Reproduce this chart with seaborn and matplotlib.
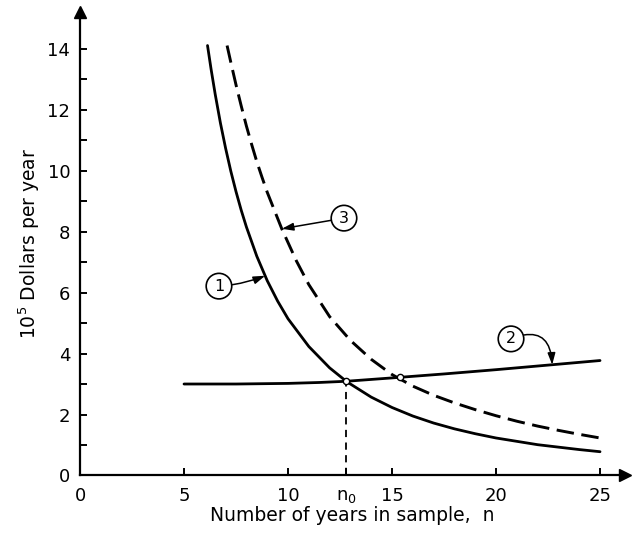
import numpy as np
import pandas as pd
import matplotlib
matplotlib.use("Agg")
import matplotlib.pyplot as plt
import seaborn as sns

# ---- data ----
curve1_n = [6.13, 6.3, 6.5, 6.75, 7.0, 7.25, 7.5, 7.75, 8.0, 8.5, 9.0, 9.5, 10.0, 11.0, 12.0,
            12.8, 13.0, 14.0, 15.0, 16.0, 17.0, 18.0, 19.0, 20.0, 21.0, 22.0, 23.0, 24.0, 25.0]
curve1_y = [14.1, 13.33, 12.50, 11.56, 10.73, 9.98, 9.31, 8.70, 8.15, 7.19, 6.39, 5.72, 5.14,
            4.23, 3.53, 3.09, 3.00, 2.57, 2.23, 1.95, 1.72, 1.53, 1.37, 1.23, 1.12, 1.01,
            0.93, 0.85, 0.78]

curve2_n = [5.0, 7.5, 10.0, 11.5, 12.8, 15.0, 17.5, 20.0, 22.5, 25.0]
curve2_y = [3.0, 3.0, 3.02, 3.05, 3.09, 3.20, 3.33, 3.47, 3.62, 3.77]

curve3_n = [7.07, 7.25, 7.5, 7.75, 8.0, 8.25, 8.5, 8.75, 9.0, 9.7, 10.4, 11.0, 12.0, 13.0,
            14.0, 15.0, 16.0, 17.0, 18.0, 19.0, 20.0, 21.0, 22.0, 23.0, 24.0, 25.0]
curve3_y = [14.1, 13.55, 12.81, 12.12, 11.46, 10.86, 10.29, 9.78, 9.29, 8.09, 7.04, 6.26,
            5.21, 4.43, 3.81, 3.31, 2.93, 2.63, 2.38, 2.16, 1.96, 1.78, 1.62, 1.48, 1.35, 1.23]

n0 = 12.8
crossings_n = [12.8, 15.4]          # where curves 1 and 3 meet curve 2

x_ticks = [0, 5, 10, n0, 15, 20, 25]
x_tick_labels = ["0", "5", "10", r"$\mathregular{n_0}$", "15", "20", "25"]
y_ticks = [0, 2, 4, 6, 8, 10, 12, 14]
y_minor_ticks = [1, 3, 5, 7, 9, 11, 13]

curve_labels = ["1", "2", "3"]
label_target_n = [8.9, 22.7, 9.7]     # where each label's arrow touches its curve

# ---- figure ----
sns.set_style("ticks")
plt.rcParams["font.family"] = ["DejaVu Sans"]
plt.rcParams["text.color"] = "black"
plt.rcParams["axes.labelcolor"] = "black"
plt.rcParams["xtick.color"] = "black"
plt.rcParams["ytick.color"] = "black"

fig = plt.figure(figsize=(6.32, 5.33), dpi=100)
ax = fig.add_axes([0.1266, 0.1079, 0.8623, 0.8696])

df1 = pd.DataFrame({"n": curve1_n, "y": curve1_y})
df2 = pd.DataFrame({"n": curve2_n, "y": curve2_y})
df3 = pd.DataFrame({"n": curve3_n, "y": curve3_y})

sns.lineplot(data=df1, x="n", y="y", ax=ax, color="black", lw=2.0, sort=False, estimator=None)
sns.lineplot(data=df2, x="n", y="y", ax=ax, color="black", lw=2.0, sort=False, estimator=None)
sns.lineplot(data=df3, x="n", y="y", ax=ax, color="black", lw=2.1, sort=False, estimator=None)
ax.lines[-1].set_dashes((6.0, 2.6))

# vertical dashed guide at n0
y_n0 = np.interp(n0, curve2_n, curve2_y)
ax.vlines(n0, 0, y_n0, colors="black", lw=1.3, linestyles=(0, (4, 3)))

# intersection markers
cy = np.interp(crossings_n, curve2_n, curve2_y)
ax.plot(crossings_n, cy, "o", ms=4.5, mfc="white", mec="black", mew=1.0, zorder=5)

# axes limits & spines
ax.set_xlim(0, 26.2)
ax.set_ylim(0, 15.2)
sns.despine(ax=ax)
for s in ["left", "bottom"]:
    ax.spines[s].set_linewidth(1.6)
    ax.spines[s].set_color("black")

ax.plot(1, 0, marker=">", ms=9, color="black", transform=ax.get_yaxis_transform(), clip_on=False)
ax.plot(0, 1, marker="^", ms=9, color="black", transform=ax.get_xaxis_transform(), clip_on=False)

ax.set_xticks(x_ticks)
ax.set_xticklabels(x_tick_labels)
ax.set_yticks(y_ticks)
ax.set_yticks(y_minor_ticks, minor=True)
ax.tick_params(axis="both", which="both", direction="in", length=5, width=1.4, colors="black",
               labelsize=13)
ax.tick_params(axis="x", pad=8)
ax.tick_params(axis="y", pad=7)

ax.set_xlabel("Number of years in sample,  n", fontsize=13.5, labelpad=1)
ax.set_ylabel(r"$\mathregular{10^5}$ Dollars per year", fontsize=13.5, labelpad=4)

# circled labels with arrows
curves = [(curve1_n, curve1_y), (curve2_n, curve2_y), (curve3_n, curve3_y)]
label_pos = [(6.68, 6.21), (20.72, 4.48), (12.69, 8.44)]
conn = ["arc3,rad=0.08", "arc3,rad=-0.7", "arc3,rad=0.0"]
for lab, tn, (cn, cyv), pos, cs in zip(curve_labels, label_target_n, curves, label_pos, conn):
    ty = np.interp(tn, cn, cyv)
    ax.annotate(lab, xy=(tn, ty), xytext=pos, ha="center", va="center", fontsize=11.5,
                bbox=dict(boxstyle="circle,pad=0.33", fc="white", ec="black", lw=1.2),
                arrowprops=dict(arrowstyle="-|>,head_length=0.6,head_width=0.2", color="black",
                                lw=1.1, connectionstyle=cs, shrinkA=0, shrinkB=0))

fig.savefig("out.png", dpi=100)
